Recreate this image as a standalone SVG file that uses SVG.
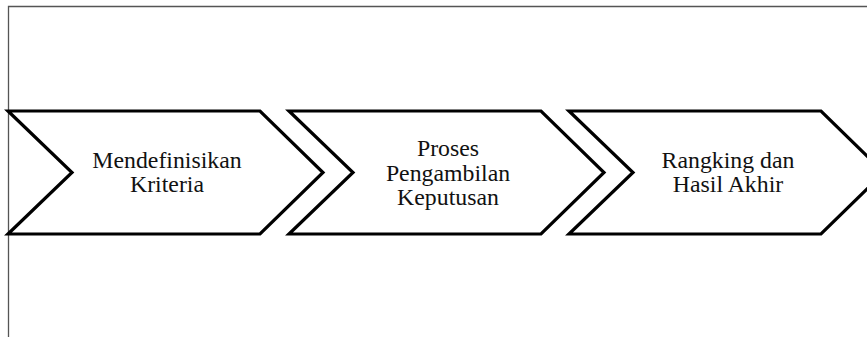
<svg xmlns="http://www.w3.org/2000/svg" width="867" height="337" viewBox="0 0 867 337">
<defs>
<style>
.frame{fill:none;stroke:#555;stroke-width:1.3}
.chev{fill:#fff;stroke:#000;stroke-width:3.2;stroke-linejoin:miter}
.lbl{font-family:"Liberation Serif","Times New Roman",serif;font-size:23.8px;fill:#111;text-anchor:middle}
</style>
<polygon id="chevShape" points="0,0 252,0 315,61.5 252,123 0,123 64,61.5"/>
</defs>
<rect width="867" height="337" fill="#fff"/>
<path class="frame" d="M8.5,340 V6.5 H870"/>
<g id="connectors"/>
<g id="node1">
<use href="#chevShape" class="chev" x="8" y="111"/>
<text class="lbl" x="167" y="168">Mendefinisikan</text>
<text class="lbl" x="167" y="192">Kriteria</text>
</g>
<g id="node2">
<use href="#chevShape" class="chev" x="289" y="111"/>
<text class="lbl" x="448" y="156">Proses</text>
<text class="lbl" x="448" y="180.5">Pengambilan</text>
<text class="lbl" x="448" y="205">Keputusan</text>
</g>
<g id="node3">
<use href="#chevShape" class="chev" x="569" y="111"/>
<text class="lbl" x="728" y="168">Rangking dan</text>
<text class="lbl" x="728" y="192">Hasil Akhir</text>
</g>
</svg>
